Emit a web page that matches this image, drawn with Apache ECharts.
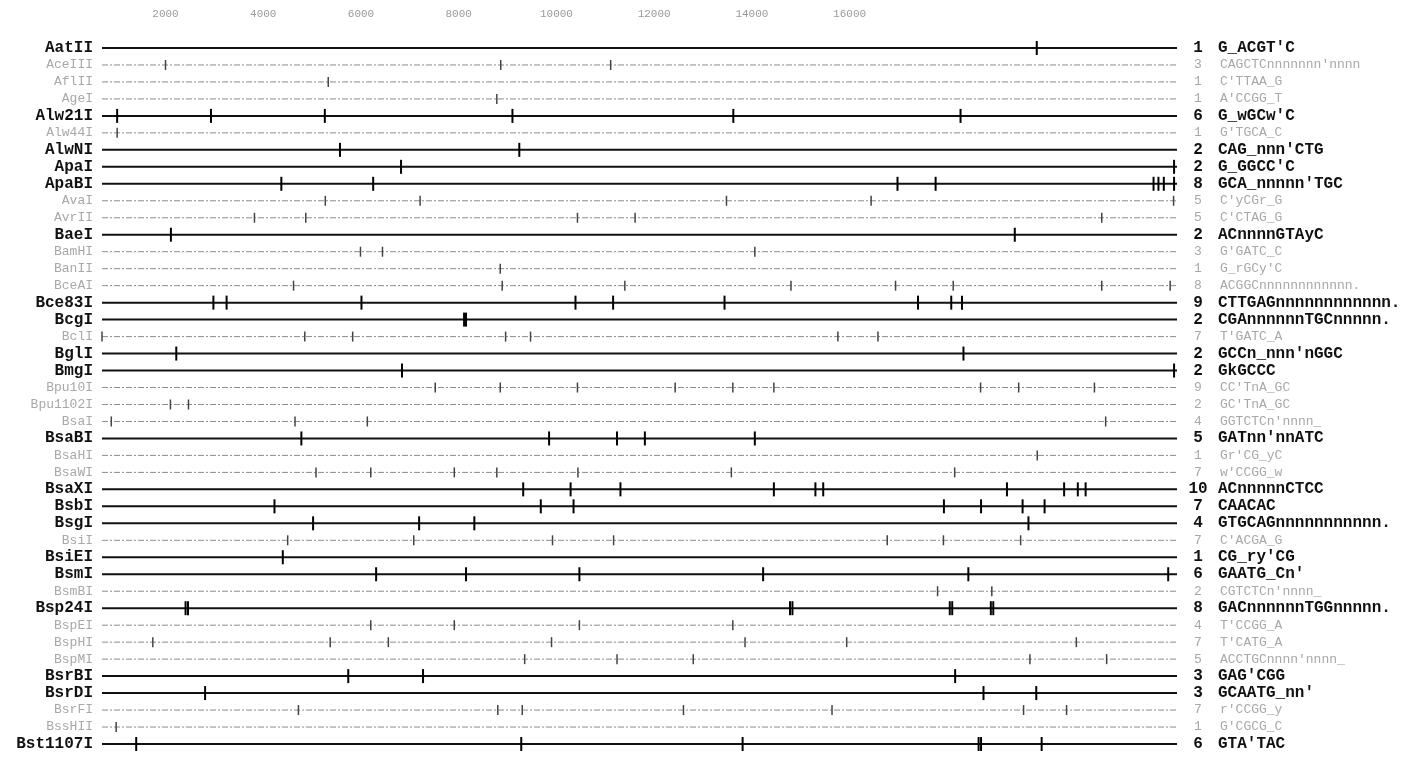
<!DOCTYPE html>
<html><head><meta charset="utf-8">
<script src="https://cdn.jsdelivr.net/npm/echarts@6/dist/echarts.min.js"></script>
<style>html,body{margin:0;padding:0;background:#fff}#c{width:1413px;height:779px}</style>
</head><body><div id="c"></div>
<script>
// ---- data ----
const enzymes = ['AatII','AceIII','AflII','AgeI','Alw21I','Alw44I','AlwNI','ApaI','ApaBI','AvaI','AvrII','BaeI','BamHI','BanII','BceAI','Bce83I','BcgI','BclI','BglI','BmgI','Bpu10I','Bpu1102I','BsaI','BsaBI','BsaHI','BsaWI','BsaXI','BsbI','BsgI','BsiI','BsiEI','BsmI','BsmBI','Bsp24I','BspEI','BspHI','BspMI','BsrBI','BsrDI','BsrFI','BssHII','Bst1107I'];
const recognitionSites = ["G_ACGT'C","CAGCTCnnnnnnn'nnnn","C'TTAA_G","A'CCGG_T","G_wGCw'C","G'TGCA_C","CAG_nnn'CTG","G_GGCC'C","GCA_nnnnn'TGC","C'yCGr_G","C'CTAG_G","ACnnnnGTAyC","G'GATC_C","G_rGCy'C","ACGGCnnnnnnnnnnnn.","CTTGAGnnnnnnnnnnnn.","CGAnnnnnnTGCnnnnn.","T'GATC_A","GCCn_nnn'nGGC","GkGCCC","CC'TnA_GC","GC'TnA_GC","GGTCTCn'nnnn_","GATnn'nnATC","Gr'CG_yC","w'CCGG_w","ACnnnnnCTCC","CAACAC","GTGCAGnnnnnnnnnnn.","C'ACGA_G","CG_ry'CG","GAATG_Cn'","CGTCTCn'nnnn_","GACnnnnnnTGGnnnnn.","T'CCGG_A","T'CATG_A","ACCTGCnnnn'nnnn_","GAG'CGG","GCAATG_nn'","r'CCGG_y","G'CGCG_C","GTA'TAC"];
const siteCounts = [1,3,1,1,6,1,2,2,8,5,5,2,3,1,8,9,2,7,2,2,9,2,4,5,1,7,10,7,4,7,1,6,2,8,4,7,5,3,3,7,1,6];
const cutPositions = [
  [19830],
  [2000,8860,11110],
  [5330],
  [8780],
  [1010,2930,5260,9100,13620,18270],
  [1010],
  [5570,9240],
  [6820,22640],
  [4370,6250,16980,17760,22220,22320,22430,22640],
  [5270,7210,13480,16440,22630],
  [3820,4870,10430,11610,21160],
  [2110,19380],
  [5990,6440,14060],
  [8850],
  [4620,8890,11400,14800,16940,18120,21160,22560],
  [2980,3250,6010,10390,11160,13440,17400,18080,18300],
  [8110,8150],
  [700,4850,5830,8960,9470,15760,16580],
  [2220,18330],
  [6840,22640],
  [7520,8850,10430,12430,13610,14450,18680,19460,21010],
  [2100,2470],
  [890,4650,6130,21240],
  [4780,9850,11240,11810,14060],
  [19840],
  [5080,6200,7910,8780,10440,13580,18150],
  [9320,10290,11310,14450,15300,15460,19220,20390,20670,20830],
  [4230,9680,10350,17930,18690,19540,19990],
  [5020,7190,8320,19660],
  [4500,7080,9920,11170,16770,17920,19500],
  [4400],
  [6310,8150,10470,14230,18430,22520],
  [17800,18910],
  [2410,2460,14780,14830,18050,18100,18890,18940],
  [6200,7910,10470,13610],
  [1740,5370,6560,9900,13860,15940,20640],
  [9350,11240,12800,19690,21260],
  [5740,7270,18160],
  [2810,18740,19820],
  [4720,8800,9300,12600,15640,19560,20440],
  [990],
  [1400,9280,13810,18640,18690,19930]
];
const highlighted = ['AatII','Alw21I','AlwNI','ApaI','ApaBI','BaeI','Bce83I','BcgI','BglI','BmgI','BsaBI','BsaXI','BsbI','BsgI','BsiEI','BsmI','Bsp24I','BsrBI','BsrDI','Bst1107I'];
const scaleTicks = [2000,4000,6000,8000,10000,12000,14000,16000];
const seqStart = 700;
const seqEnd = 22700;

// ---- chart ----
const hl = new Set(highlighted);
const rowData = enzymes.map((e, i) => [seqStart, seqEnd, i]);
const tickData = [];
cutPositions.forEach((arr, i) => arr.forEach(p => tickData.push([p, i])));

const FONT = 'Liberation Mono';

function renderRow(params, api) {
  const i = api.value(2);
  const a = api.coord([api.value(0), i]);
  const b = api.coord([api.value(1), i]);
  const strong = hl.has(enzymes[i]);
  return {
    type: 'line',
    shape: {x1: a[0], y1: a[1], x2: b[0], y2: b[1]},
    style: strong ? {stroke: '#111', lineWidth: 2}
                  : {stroke: '#8c8c8c', lineWidth: 1, lineDash: [6, 2, 2, 2]}
  };
}
function renderTick(params, api) {
  const i = api.value(1);
  const p = api.coord([api.value(0), i]);
  const strong = hl.has(enzymes[i]);
  const h = strong ? 7 : 5;
  return {
    type: 'line',
    shape: {x1: p[0], y1: p[1] - h, x2: p[0], y2: p[1] + h},
    style: {stroke: strong ? '#000' : '#444', lineWidth: strong ? 2 : 1.5}
  };
}

const chart = echarts.init(document.getElementById('c'), null, {renderer: 'canvas'});
chart.setOption({
  animation: false,
  backgroundColor: '#fff',
  grid: {left: 102, right: 236, top: 39.5, bottom: 26.5},
  xAxis: {
    type: 'value', position: 'top', min: seqStart, max: seqEnd,
    axisLine: {show: false}, axisTick: {show: false}, splitLine: {show: false},
    axisLabel: {customValues: scaleTicks, color: '#9a9a9a', fontSize: 11, margin: 20,
      fontFamily: FONT, formatter: v => String(v)}
  },
  yAxis: [{
    type: 'category', data: enzymes, inverse: true, position: 'left',
    axisLine: {show: false}, axisTick: {show: false}, splitLine: {show: false},
    axisLabel: {
      margin: 9, interval: 0,
      formatter: v => hl.has(v) ? '{b|' + v + '}' : '{f|' + v + '}',
      rich: {
        b: {fontFamily: FONT, fontWeight: 'bold', fontSize: 16, color: '#111'},
        f: {fontFamily: FONT, fontSize: 13, color: '#a8a8a8'}
      }
    }
  }, {
    type: 'category', data: enzymes, inverse: true, position: 'right',
    axisLine: {show: false}, axisTick: {show: false}, splitLine: {show: false},
    axisLabel: {
      margin: 10, interval: 0, align: 'left',
      formatter: (v, idx) => hl.has(v)
        ? '{bn|' + siteCounts[idx] + '}{bs|' + recognitionSites[idx] + '}'
        : '{fn|' + siteCounts[idx] + '}{fs|' + recognitionSites[idx] + '}',
      rich: {
        bn: {fontFamily: FONT, fontWeight: 'bold', fontSize: 16, color: '#111', width: 22, align: 'right'},
        bs: {fontFamily: FONT, fontWeight: 'bold', fontSize: 16, color: '#111', padding: [0, 0, 0, 9]},
        fn: {fontFamily: FONT, fontSize: 13, color: '#a8a8a8', width: 22, align: 'right'},
        fs: {fontFamily: FONT, fontSize: 13, color: '#a8a8a8', padding: [0, 0, 0, 11]}
      }
    }
  }],
  series: [{
    type: 'custom', name: 'maps', renderItem: renderRow, data: rowData,
    encode: {x: [0, 1], y: 2}, clip: false, silent: true, z: 1
  }, {
    type: 'custom', name: 'sites', renderItem: renderTick, data: tickData,
    encode: {x: 0, y: 1}, clip: false, silent: true, z: 2
  }]
});
</script>
</body></html>
